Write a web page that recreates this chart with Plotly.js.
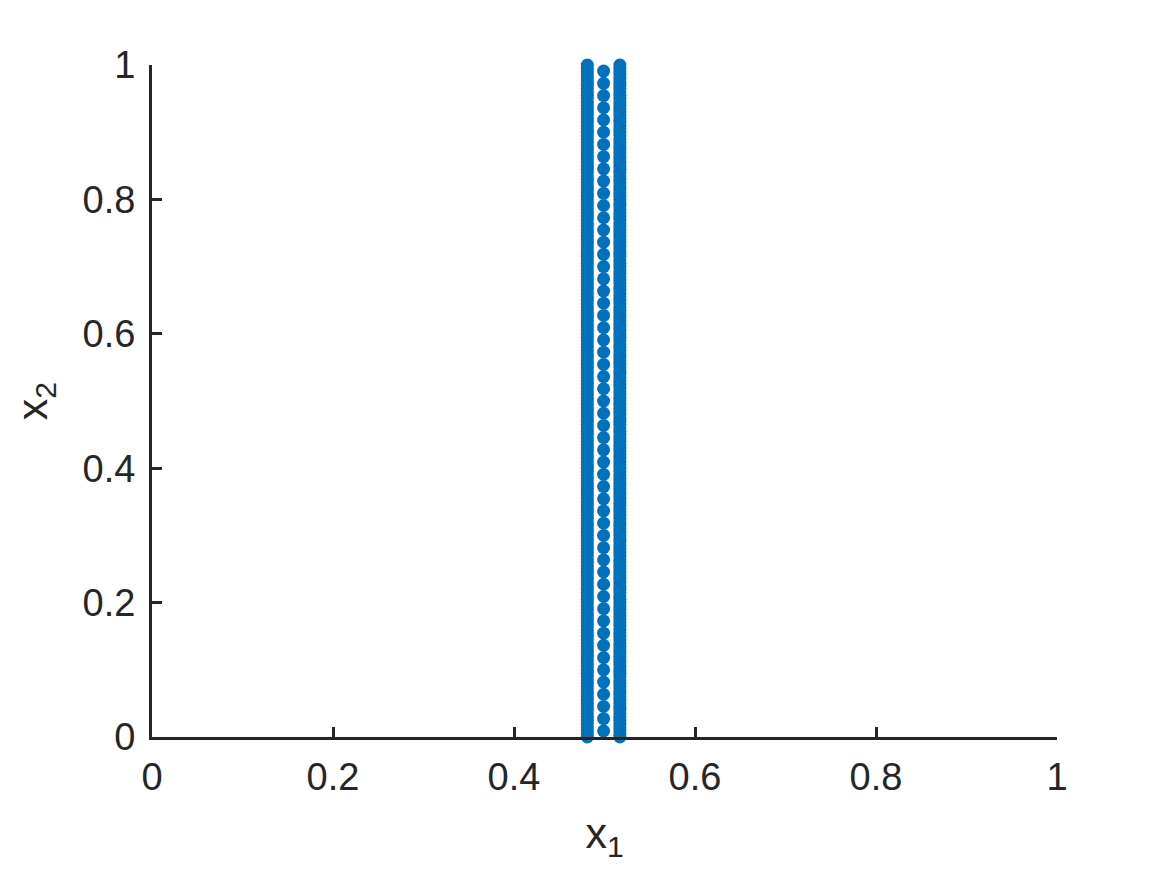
<!DOCTYPE html>
<html>
<head>
<meta charset="utf-8">
<script src="https://cdn.plot.ly/plotly-3.0.1.min.js"></script>
<style>html,body{margin:0;padding:0;background:#fff;}#chart{width:1167px;height:875px;}</style>
</head>
<body>
<div id="chart"></div>
<script>
// Left and right dense columns
const xLeft = 0.481;
const xMid = 0.499;
const xRight = 0.517;
const yDense = [0,0.005,0.01,0.015,0.02,0.025,0.03,0.035,0.04,0.045,0.05,0.055,0.06,0.065,0.07,0.075,0.08,0.085,0.09,0.095,
0.1,0.105,0.11,0.115,0.12,0.125,0.13,0.135,0.14,0.145,0.15,0.155,0.16,0.165,0.17,0.175,0.18,0.185,0.19,0.195,
0.2,0.205,0.21,0.215,0.22,0.225,0.23,0.235,0.24,0.245,0.25,0.255,0.26,0.265,0.27,0.275,0.28,0.285,0.29,0.295,
0.3,0.305,0.31,0.315,0.32,0.325,0.33,0.335,0.34,0.345,0.35,0.355,0.36,0.365,0.37,0.375,0.38,0.385,0.39,0.395,
0.4,0.405,0.41,0.415,0.42,0.425,0.43,0.435,0.44,0.445,0.45,0.455,0.46,0.465,0.47,0.475,0.48,0.485,0.49,0.495,
0.5,0.505,0.51,0.515,0.52,0.525,0.53,0.535,0.54,0.545,0.55,0.555,0.56,0.565,0.57,0.575,0.58,0.585,0.59,0.595,
0.6,0.605,0.61,0.615,0.62,0.625,0.63,0.635,0.64,0.645,0.65,0.655,0.66,0.665,0.67,0.675,0.68,0.685,0.69,0.695,
0.7,0.705,0.71,0.715,0.72,0.725,0.73,0.735,0.74,0.745,0.75,0.755,0.76,0.765,0.77,0.775,0.78,0.785,0.79,0.795,
0.8,0.805,0.81,0.815,0.82,0.825,0.83,0.835,0.84,0.845,0.85,0.855,0.86,0.865,0.87,0.875,0.88,0.885,0.89,0.895,
0.9,0.905,0.91,0.915,0.92,0.925,0.93,0.935,0.94,0.945,0.95,0.955,0.96,0.965,0.97,0.975,0.98,0.985,0.99,0.995,1];
// Middle spaced column
const yMid = [0.0091,0.0273,0.0455,0.0636,0.0818,0.1,0.1182,0.1364,0.1545,0.1727,
0.1909,0.2091,0.2273,0.2455,0.2636,0.2818,0.3,0.3182,0.3364,0.3545,
0.3727,0.3909,0.4091,0.4273,0.4455,0.4636,0.4818,0.5,0.5182,0.5364,
0.5545,0.5727,0.5909,0.6091,0.6273,0.6455,0.6636,0.6818,0.7,0.7182,
0.7364,0.7545,0.7727,0.7909,0.8091,0.8273,0.8455,0.8636,0.8818,0.9,
0.9182,0.9364,0.9545,0.9727,0.9909];
const tickVals = [0,0.2,0.4,0.6,0.8,1];
const tickText = ['0','0.2','0.4','0.6','0.8','1'];

const blue = '#0072BD';
const xs = [].concat(yDense.map(() => xLeft), yMid.map(() => xMid), yDense.map(() => xRight));
const ys = [].concat(yDense, yMid, yDense);

const trace = {
  x: xs, y: ys, type: 'scatter', mode: 'markers',
  marker: {color: blue, size: 13, line: {width: 0}},
  hoverinfo: 'skip', cliponaxis: false
};

const fontFam = 'Liberation Sans, Arial, sans-serif';
const axisCommon = {
  range: [0, 1], tickvals: tickVals, ticktext: tickText,
  showgrid: false, zeroline: false, showline: true,
  linecolor: '#262626', linewidth: 3,
  ticks: 'inside', ticklen: 10, tickwidth: 3, tickcolor: '#262626',
  tickfont: {family: fontFam, size: 38, color: '#262626'},
  mirror: false, automargin: false, fixedrange: true
};

const layout = {
  width: 1167, height: 875,
  margin: {l: 152, r: 110, t: 65, b: 138},
  paper_bgcolor: '#fff', plot_bgcolor: '#fff',
  showlegend: false,
  xaxis: Object.assign({}, axisCommon, {
    title: {text: 'x<sub>1</sub>', font: {family: fontFam, size: 43, color: '#262626'}, standoff: 22},
    ticklabelstandoff: 4
  }),
  yaxis: Object.assign({}, axisCommon, {
    title: {text: 'x<sub>2</sub>', font: {family: fontFam, size: 43, color: '#262626'}, standoff: 22},
    ticklabelstandoff: 6
  })
};

Plotly.newPlot('chart', [trace], layout, {displayModeBar: false, staticPlot: true});
</script>
</body>
</html>
